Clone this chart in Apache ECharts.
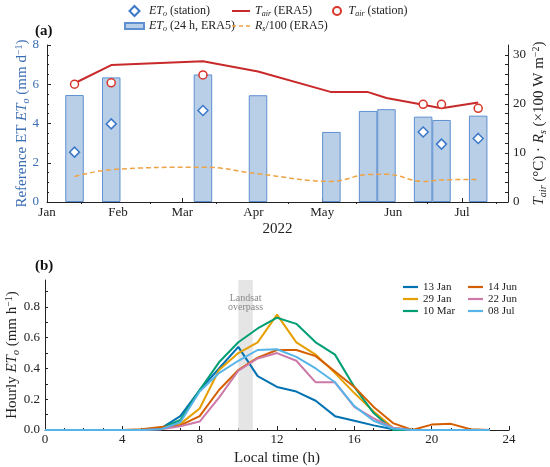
<!DOCTYPE html>
<html>
<head>
<meta charset="utf-8">
<script src="https://cdn.jsdelivr.net/npm/echarts@6/dist/echarts.min.js"></script>
<style>
  html, body { margin: 0; padding: 0; background: #fff; }
  #chart { width: 550px; height: 467px; }
</style>
</head>
<body>
<div id="chart"></div>
<script>
// panel (a): overpass dates in 2022
const dates = ['2022-01-13', '2022-01-29', '2022-03-10', '2022-04-03', '2022-05-05',
               '2022-05-21', '2022-05-29', '2022-06-14', '2022-06-22', '2022-07-08'];
const etoEra5 = [5.45, 6.35, 6.5, 5.44, 3.57, 4.64, 4.73, 4.35, 4.18, 4.4];
const etoStation = [2.54, 3.98, 4.66, null, null, null, null, 3.57, 2.95, 3.24];
const tairEra5 = [24.2, 27.9, 28.7, 26.6, 22.4, 22.4, 21.2, 19.8, 19.1, 20.3];
const tairStation = [24.0, 24.3, 25.9, null, null, null, null, 19.9, 19.9, 19.1];
const rsEra5 = [5.2, 6.6, 7.1, 5.75, 4.2, 5.6, 5.65, 4.2, 4.5, 4.6];

const monthStarts = ['2022-01-01', '2022-02-01', '2022-03-01', '2022-04-01', '2022-05-01', '2022-06-01', '2022-07-01'];
const midMonths = ['2022-01-16', '2022-02-15', '2022-03-16', '2022-04-16', '2022-05-16', '2022-06-16', '2022-07-16'];
const monthNames = ['Jan', 'Feb', 'Mar', 'Apr', 'May', 'Jun', 'Jul'];
const rightLabels = [0, 10, 20, 30];
const rightTicks = [0, 2, 4, 6, 8, 10, 12, 14, 16, 18, 20, 22, 24, 26, 28, 30];

// panel (b): hourly ETo (mm/h)
const hours = [0, 1, 2, 3, 4, 5, 6, 7, 8, 9, 10, 11, 12, 13, 14, 15, 16, 17, 18, 19, 20, 21, 22, 23];
const jan13 = [0, 0, 0, 0, 0, 0, 0.01, 0.09, 0.26, 0.40, 0.54, 0.35, 0.28, 0.25, 0.19, 0.09, 0.06, 0.03, 0.005, 0, 0, 0, 0, 0];
const jan29 = [0, 0, 0, 0, 0, 0, 0.01, 0.04, 0.14, 0.39, 0.50, 0.57, 0.75, 0.57, 0.49, 0.37, 0.24, 0.12, 0.015, 0, 0, 0, 0, 0];
const mar10 = [0, 0, 0, 0, 0, 0, 0.01, 0.065, 0.26, 0.44, 0.57, 0.66, 0.73, 0.69, 0.57, 0.49, 0.28, 0.11, 0, 0, 0, 0, 0, 0];
const jun14 = [0, 0, 0, 0, 0, 0.005, 0.02, 0.03, 0.09, 0.26, 0.39, 0.47, 0.52, 0.52, 0.48, 0.38, 0.28, 0.15, 0.045, 0, 0.035, 0.04, 0.005, 0];
const jun22 = [0, 0, 0, 0, 0, 0, 0.005, 0.025, 0.055, 0.21, 0.385, 0.465, 0.50, 0.45, 0.31, 0.31, 0.15, 0.075, 0.015, 0, 0, 0, 0, 0];
const jul08 = [0, 0, 0, 0, 0, 0, 0.005, 0.05, 0.25, 0.37, 0.45, 0.52, 0.525, 0.475, 0.40, 0.31, 0.155, 0.06, 0.01, 0, 0, 0, 0, 0];
const dayNames = ['13 Jan', '29 Jan', '10 Mar', '14 Jun', '22 Jun', '08 Jul'];
const dayColors = ['#0072B2', '#E69F00', '#009E73', '#D55E00', '#CC79A7', '#56B4E9'];
const hourLabels = [0, 0.2, 0.4, 0.6, 0.8];
const hourTicks = [0, 0.1, 0.2, 0.3, 0.4, 0.5, 0.6, 0.7, 0.8, 0.9];
const overpass = [10, 10.75];

const serif = 'Liberation Serif';
const blue = '#3b6db3';
const ms = s => new Date(s + 'T00:00:00Z').getTime();

// rich text styles for italic symbols with sub/superscripts
function rich(size, color) {
  const small = Math.round(size * 0.68);
  return {
    n: { fontFamily: serif, fontSize: size, color: color },
    i: { fontFamily: serif, fontSize: size, fontStyle: 'italic', color: color },
    s: { fontFamily: serif, fontSize: small, fontStyle: 'italic', color: color,
         lineHeight: small, padding: [Math.round(size * 0.45), 0, 0, 0] },
    p: { fontFamily: serif, fontSize: small, color: color,
         lineHeight: small, padding: [0, 0, Math.round(size * 0.45), 0] }
  };
}

const legendText = {
  'ETo (station)': '{i|ET}{s|o}{n| (station)}',
  'ETo (24 h, ERA5)': '{i|ET}{s|o}{n| (24 h, ERA5)}',
  'Tair (ERA5)': '{i|T}{s|air}{n| (ERA5)}',
  'Rs/100 (ERA5)': '{i|R}{s|s}{n|/100 (ERA5)}',
  'Tair (station)': '{i|T}{s|air}{n| (station)}'
};

// legend icon shapes
const lineIcon = 'path://M0,0H18V2H0Z';
const dashIcon = 'path://M0,0H4V1.6H0Z M7,0H11V1.6H7Z M14,0H18V1.6H14Z';
const barIcon = 'path://M0,0H19V6H0Z';
const diamondIcon = 'path://M5,0L10,5L5,10L0,5Z';

const pair = (vals) => dates.map((d, i) => [ms(d), vals[i]]).filter(p => p[1] != null);

const axisLine = { show: true, lineStyle: { color: '#222', width: 1 } };
const tickIn = { show: true, inside: true, length: 4, lineStyle: { color: '#222' } };

const topLegend = (left, width, height, names) => ({
  orient: 'vertical', left: left, top: 4, padding: 0, itemWidth: width, itemHeight: height, itemGap: 1,
  textStyle: { fontFamily: serif, fontSize: 12, color: '#222', lineHeight: 14, rich: rich(12, '#222') },
  formatter: name => legendText[name],
  data: names
});
const bottomLegend = (left, names) => ({
  orient: 'vertical', left: left, top: 281, padding: 0, itemWidth: 15, itemHeight: 8, itemGap: 0,
  textStyle: { fontFamily: serif, fontSize: 11, color: '#222', lineHeight: 12 },
  data: names.map(n => ({ name: n, icon: 'path://M0,0H15V2.2H0Z' }))
});

const chart = echarts.init(document.getElementById('chart'));

chart.setOption({
  animation: false,
  backgroundColor: '#fff',
  legend: [
    topLegend(124, 19, 10, [
      { name: 'ETo (station)', icon: diamondIcon },
      { name: 'ETo (24 h, ERA5)', icon: barIcon }
    ]),
    topLegend(232, 18, 10, [
      { name: 'Tair (ERA5)', icon: lineIcon },
      { name: 'Rs/100 (ERA5)', icon: dashIcon }
    ]),
    topLegend(332, 13, 8, ['Tair (station)'])
  ].concat([
    bottomLegend(403, dayNames.slice(0, 3)),
    bottomLegend(468, dayNames.slice(3))
  ]),
  grid: [
    { left: 47, right: 42, top: 45, height: 157, outerBoundsMode: 'none' },
    { left: 45, right: 41, top: 280, height: 150, outerBoundsMode: 'none' }
  ],
  xAxis: [
    {
      gridIndex: 0, type: 'value', min: ms('2022-01-01'), max: ms('2022-07-21'),
      name: '2022', nameLocation: 'middle', nameGap: 20, nameMoveOverlap: false,
      nameTextStyle: { fontFamily: serif, fontSize: 15, color: '#222' },
      axisLine: axisLine, splitLine: { show: false },
      axisTick: Object.assign({}, tickIn, { customValues: monthStarts.map(ms) }),
      axisLabel: {
        customValues: monthStarts.map(ms), margin: 4,
        fontFamily: serif, fontSize: 13, color: '#222',
        formatter: v => monthNames[new Date(v).getUTCMonth()]
      }
    },
    {
      gridIndex: 0, type: 'value', min: ms('2022-01-01'), max: ms('2022-07-21'),
      axisLine: { show: false }, splitLine: { show: false }, axisLabel: { show: false },
      axisTick: { show: true, inside: true, length: 2, customValues: midMonths.map(ms), lineStyle: { color: '#222' } }
    },
    {
      gridIndex: 1, type: 'value', min: 0, max: 24, interval: 4,
      name: 'Local time (h)', nameLocation: 'middle', nameGap: 21, nameMoveOverlap: false,
      nameTextStyle: { fontFamily: serif, fontSize: 15, color: '#222' },
      axisLine: axisLine, splitLine: { show: false }, axisTick: tickIn,
      minorTick: { show: true, splitNumber: 4, length: 2, lineStyle: { color: '#222' } },
      axisLabel: { margin: 3, fontFamily: serif, fontSize: 13, color: '#222' }
    }
  ],
  yAxis: [
    {
      gridIndex: 0, type: 'value', min: 0, max: 8, interval: 2,
      name: '{n|Reference ET }{i|ET}{s|o}{n| (mm d}{p|−1}{n|)}',
      nameLocation: 'middle', nameGap: 17, nameMoveOverlap: false,
      nameTextStyle: { fontFamily: serif, fontSize: 15, color: blue, rich: rich(15, blue) },
      axisLine: axisLine, splitLine: { show: false }, axisTick: tickIn,
      minorTick: { show: true, splitNumber: 4, length: 2, lineStyle: { color: '#222' } },
      axisLabel: { margin: 8, fontFamily: serif, fontSize: 13, color: blue }
    },
    {
      gridIndex: 0, type: 'value', min: 0, max: 32, position: 'right',
      name: '{i|T}{s|air}{n| (°C) · }{i|R}{s|s}{n| (×100 W m}{p|−2}{n|)}',
      nameLocation: 'middle', nameGap: 24, nameRotate: 90, nameMoveOverlap: false,
      nameTextStyle: { fontFamily: serif, fontSize: 15, color: '#222', rich: rich(15, '#222') },
      axisLine: axisLine, splitLine: { show: false },
      axisTick: Object.assign({}, tickIn, { length: 3, customValues: rightTicks }),
      axisLabel: { customValues: rightLabels, margin: 5, fontFamily: serif, fontSize: 13, color: '#222' }
    },
    {
      gridIndex: 1, type: 'value', min: 0, max: 0.975,
      name: '{n|Hourly }{i|ET}{s|o}{n| (mm h}{p|−1}{n|)}',
      nameLocation: 'middle', nameGap: 25, nameMoveOverlap: false,
      nameTextStyle: { fontFamily: serif, fontSize: 15, color: '#222', rich: rich(15, '#222') },
      axisLine: axisLine, splitLine: { show: false },
      axisTick: Object.assign({}, tickIn, { length: 3, customValues: hourTicks }),
      axisLabel: {
        customValues: hourLabels, margin: 5, fontFamily: serif, fontSize: 13, color: '#222',
        formatter: v => v.toFixed(1)
      }
    }
  ],
  graphic: [
    { type: 'text', left: 35, top: 24, style: { text: '(a)', fontFamily: serif, fontSize: 15, fontWeight: 'bold', fill: '#111' } },
    { type: 'text', left: 35, top: 259, style: { text: '(b)', fontFamily: serif, fontSize: 15, fontWeight: 'bold', fill: '#111' } }
  ],
  series: [
    {
      name: 'ETo (24 h, ERA5)', type: 'bar', xAxisIndex: 0, yAxisIndex: 0,
      barWidth: 18.5, data: pair(etoEra5),
      itemStyle: { color: '#b9cfe7', borderColor: '#5d8fd1', borderWidth: 1 }
    },
    {
      name: 'Rs/100 (ERA5)', type: 'line', xAxisIndex: 0, yAxisIndex: 1,
      data: pair(rsEra5), smooth: 0.4, symbol: 'none',
      lineStyle: { color: '#f0a345', width: 1.5, type: [5, 3] }, itemStyle: { color: '#f0a345' }, z: 3
    },
    {
      name: 'Tair (ERA5)', type: 'line', xAxisIndex: 0, yAxisIndex: 1,
      data: pair(tairEra5), symbol: 'none',
      lineStyle: { color: '#c8292a', width: 2 }, itemStyle: { color: '#c8292a' }, z: 3
    },
    {
      name: 'ETo (station)', type: 'scatter', xAxisIndex: 0, yAxisIndex: 0,
      data: pair(etoStation), symbol: 'diamond', symbolSize: 10,
      itemStyle: { color: '#fff', borderColor: '#3c78c8', borderWidth: 1.5, opacity: 1 }, z: 4
    },
    {
      name: 'Tair (station)', type: 'scatter', xAxisIndex: 0, yAxisIndex: 1,
      data: pair(tairStation), symbol: 'circle', symbolSize: 8,
      itemStyle: { color: '#fff', borderColor: '#d8352a', borderWidth: 1.5, opacity: 1 }, z: 4
    },
    {
      type: 'line', xAxisIndex: 2, yAxisIndex: 2, data: [], z: 1,
      markArea: {
        silent: true,
        itemStyle: { color: '#e5e5e5' },
        label: {
          show: true, position: 'insideTop', distance: 14,
          formatter: 'Landsat\noverpass', fontFamily: serif, fontSize: 10, lineHeight: 9, color: '#888'
        },
        data: [[{ xAxis: overpass[0] }, { xAxis: overpass[1] }]]
      }
    }
  ].concat([jan13, jan29, mar10, jun14, jun22, jul08].map((vals, k) => ({
    name: dayNames[k], type: 'line', xAxisIndex: 2, yAxisIndex: 2, z: 3,
    data: hours.map((h, i) => [h, vals[i]]), symbol: 'none',
    lineStyle: { color: dayColors[k], width: 2 }, itemStyle: { color: dayColors[k] }
  })))
});
</script>
</body>
</html>
